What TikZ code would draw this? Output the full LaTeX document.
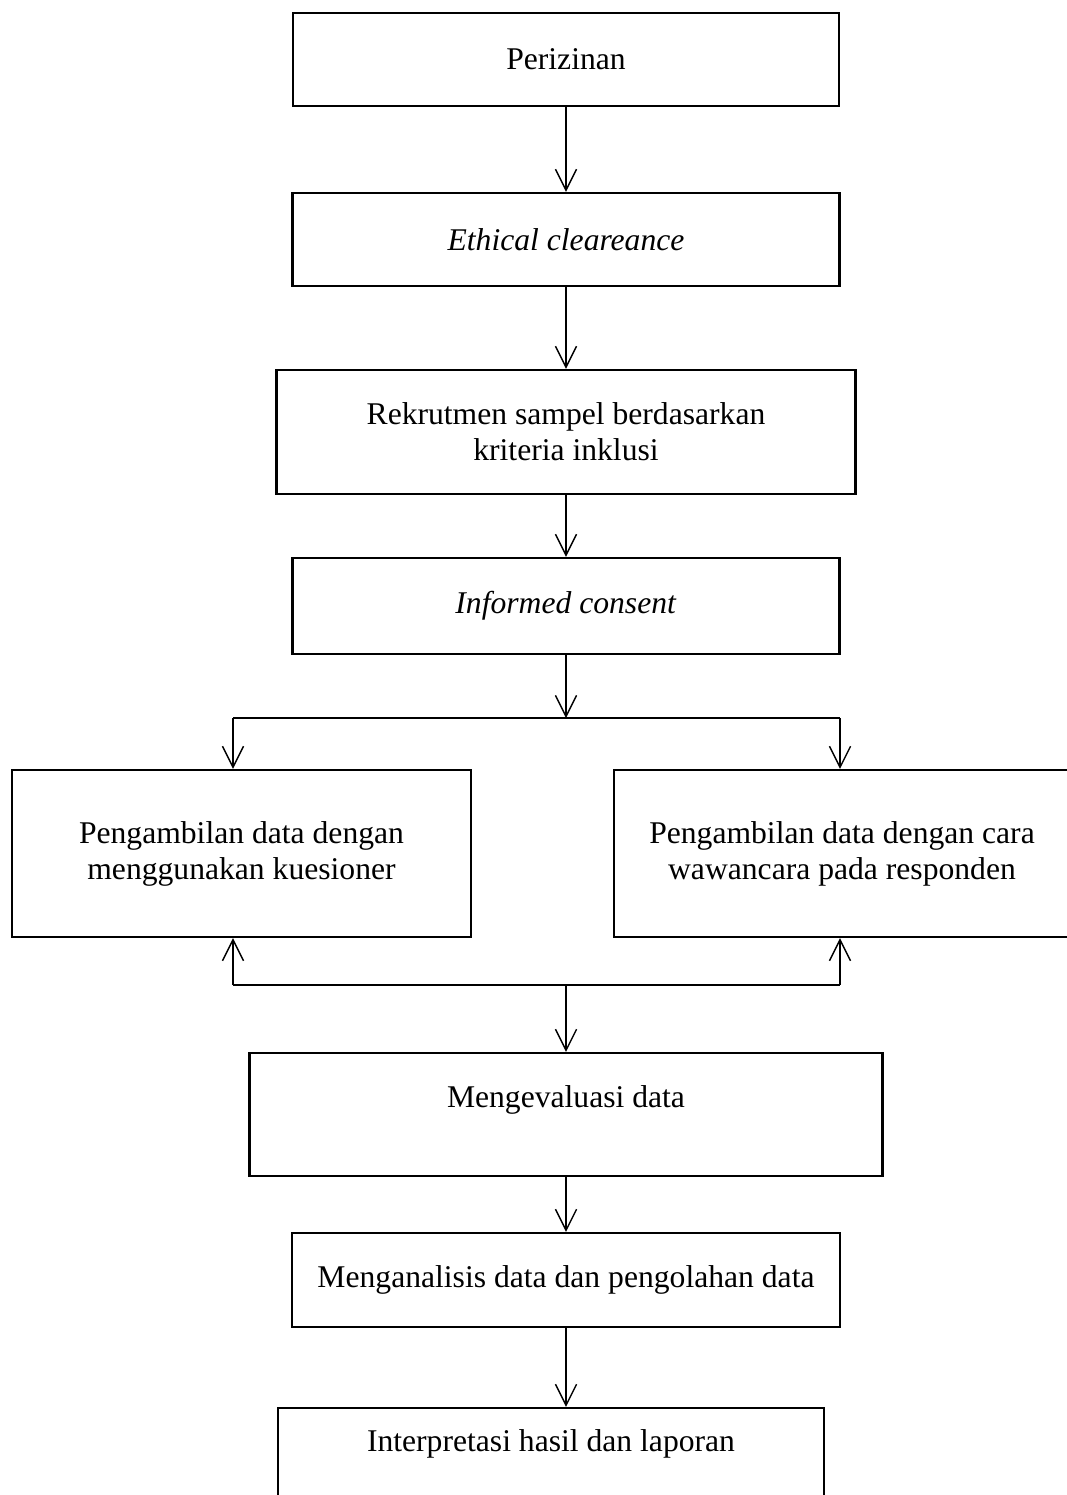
\documentclass[tikz,border=0pt]{standalone}
\usepackage{fontspec}
\setmainfont{Liberation Serif}
\usetikzlibrary{arrows.meta}

\begin{document}
\begin{tikzpicture}[x=0.02cm,y=-0.02cm,
  box/.style={draw,line width=1.3pt,rectangle,align=center,inner sep=0pt,
    font=\fontsize{18}{20.5}\selectfont},
  link/.style={line width=0.8pt},
  arr/.style={link,-{Straight Barb[length=12pt,width=12pt]}}]
\clip (0,0) rectangle (1067,1495);
\node[box,minimum width=10.92cm,minimum height=1.86cm] (izin) at (566,59.5) {Perizinan};
\node[box,minimum width=10.94cm,minimum height=1.86cm] (ethic) at (566,239.5) {\textit{Ethical cleareance}};
\node[box,minimum width=11.58cm,minimum height=2.48cm] (rekrut) at (566,432) {Rekrutmen sampel berdasarkan\\kriteria inklusi};
\node[box,minimum width=10.94cm,minimum height=1.92cm] (consent) at (566,606) {\textit{Informed consent}};
\node[box,minimum width=9.18cm,minimum height=3.34cm] (kues) at (241.5,853.5) {Pengambilan data dengan\\menggunakan kuesioner};
\node[box,minimum width=9.12cm,minimum height=3.34cm] (wawan) at (842,853.5) {Pengambilan data dengan cara\\wawancara pada responden};
\node[box,minimum width=12.66cm,minimum height=2.46cm] (eval) at (566,1114.5) {Mengevaluasi data\\~};
\node[box,minimum width=10.96cm,minimum height=1.88cm] (olah) at (566,1280) {Menganalisis data dan pengolahan data};
\node[box,minimum width=10.92cm,minimum height=2.02cm] (lapor) at (551,1458.5) {Interpretasi hasil dan laporan\\~};
% percabangan
\coordinate (fork) at (566,718);
\coordinate (forkL) at (233,718);
\coordinate (forkR) at (840,718);
\coordinate (join) at (566,985);
\coordinate (joinL) at (233,985);
\coordinate (joinR) at (840,985);
\draw[arr] (izin) -- (ethic);
\draw[arr] (ethic) -- (rekrut);
\draw[arr] (rekrut) -- (consent);
\draw[arr] (consent) -- (fork);
\draw[link] (forkL) -- (forkR);
\draw[arr] (forkL) -- (forkL |- kues.north);
\draw[arr] (forkR) -- (forkR |- wawan.north);
\draw[link] (joinL) -- (joinR);
\draw[arr] (joinL) -- (joinL |- kues.south);
\draw[arr] (joinR) -- (joinR |- wawan.south);
\draw[arr] (join) -- (eval);
\draw[arr] (eval) -- (olah);
\draw[arr] (olah.south) -- (olah.south |- lapor.north);
\end{tikzpicture}
\end{document}
